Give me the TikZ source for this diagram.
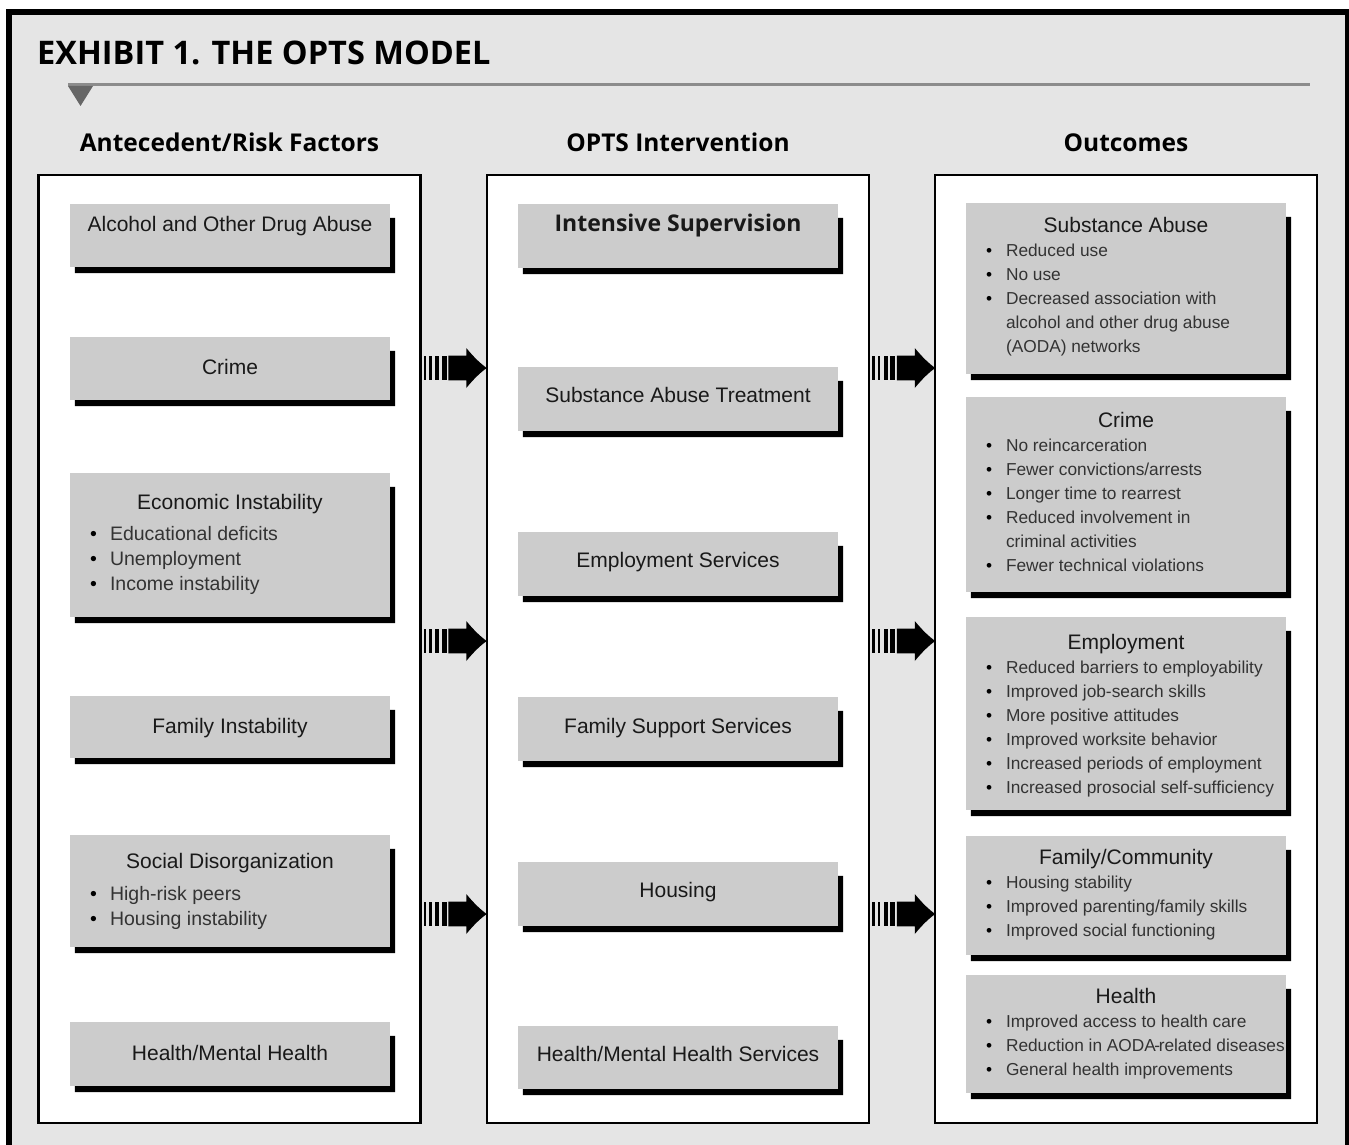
\documentclass[tikz,border=0pt]{standalone}
\usepackage{fontspec}
\setmainfont{Liberation Sans}
\newfontfamily\headfont{Open Sans}
\usetikzlibrary{calc}
\definecolor{panelgray}{HTML}{E5E5E5}
\definecolor{boxgray}{HTML}{CCCCCC}
\definecolor{rulegray}{HTML}{8C8C8C}
\definecolor{bodytext}{HTML}{333333}
\newcommand{\bul}{\makebox[20pt][l]{\textcolor{black}{\textbullet}}}
\newcommand{\cont}{\hspace*{20pt}}
\tikzset{
  column/.style={draw=black, line width=2.5pt, fill=white, minimum width=382pt, minimum height=948pt, inner sep=0pt},
  factor/.style={fill=boxgray, minimum width=320pt, inner sep=0pt},
  heading/.style={font=\headfont\bfseries\fontsize{24.5}{28}\selectfont, anchor=base, inner sep=0pt},
  boxtitle/.style={font=\fontsize{21}{25}\selectfont, text=black!90, anchor=base, inner sep=0pt},
  strongtitle/.style={font=\headfont\bfseries\fontsize{23}{27}\selectfont, text=black!90, anchor=base, inner sep=0pt},
  bullets/.style={font=\fontsize{17.3}{24}\selectfont, text=bodytext, anchor=base west, inner sep=0pt},
  widebullets/.style={bullets, font=\fontsize{19.5}{25}\selectfont},
  pics/stripearrow/.style={code={
    \fill (0,-12.3) rectangle (2.4,12.3);
    \fill (5.3,-12.3) rectangle (8.2,12.3);
    \fill (11.5,-12.3) rectangle (15.5,12.3);
    \fill (18,-12.3) rectangle (23,12.3);
    \fill (24.5,-12.3) -- (42.5,-12.3) -- (42.5,-20) .. controls (50,-11) and (56,-5) .. (63,0)
      .. controls (56,5) and (50,11) .. (42.5,20) -- (42.5,12.3) -- (24.5,12.3) -- cycle;
  }}
}
\begin{document}
\begin{tikzpicture}[x=1pt,y=-1pt]
\useasboundingbox (0,0) rectangle (1349,1145);
\clip (0,0) rectangle (1349,1145);
\draw[line width=6pt, fill=panelgray] (9,12) rectangle (1348,1180);

\node[font=\headfont\bfseries\fontsize{32.5}{38}\selectfont, anchor=base west, inner sep=0pt] (title) at (37,65) {EXHIBIT 1. THE OPTS MODEL};
\draw[rulegray, line width=3pt] (68,85) -- (1310,85);
\fill[black!60] (68,86) -- (93,86) -- (80.5,106) -- cycle;

\node[column] (risk) at (229.5,649) {};
\node[column] (opts) at (678,649) {};
\node[column] (outc) at (1126,649) {};
\node[heading] (riskhead) at (229.5,151) {Antecedent/Risk Factors};
\node[heading] (optshead) at (678,151) {OPTS Intervention};
\node[heading] (outchead) at (1126,151) {Outcomes};

% antecedent / risk factors
\node[factor, minimum height=63pt] (aoda) at (230,235.5) {};
\node[boxtitle] (aodatxt) at ($(aoda.north)+(0,28)$) {Alcohol and Other Drug Abuse};
\node[factor, minimum height=63pt] (crime) at (230,368.5) {};
\node[boxtitle] (crimetxt) at ($(crime.north)+(0,38)$) {Crime};
\node[factor, minimum height=144pt] (econ) at (230,545) {};
\node[boxtitle] (econtxt) at ($(econ.north)+(0,37)$) {Economic Instability};
\node[widebullets] (econlist) at ($(econ.north west)+(20,68)$) {\parbox[t]{300pt}{\raggedright
  \bul Educational deficits\\\bul Unemployment\\\bul Income instability}};
\node[factor, minimum height=62pt] (family) at (230,727) {};
\node[boxtitle] (familytxt) at ($(family.north)+(0,38)$) {Family Instability};
\node[factor, minimum height=112pt] (social) at (230,891) {};
\node[boxtitle] (socialtxt) at ($(social.north)+(0,34)$) {Social Disorganization};
\node[widebullets] (sociallist) at ($(social.north west)+(20,66)$) {\parbox[t]{300pt}{\raggedright
  \bul High-risk peers\\\bul Housing instability}};
\node[factor, minimum height=64pt] (mental) at (230,1054) {};
\node[boxtitle] (mentaltxt) at ($(mental.north)+(0,39)$) {Health/Mental Health};

% intervention
\node[factor, minimum height=64pt] (superv) at (678,236) {};
\node[strongtitle] (supervtxt) at ($(superv.north)+(0,28)$) {Intensive Supervision};
\node[factor, minimum height=64pt] (treat) at (678,399) {};
\node[boxtitle] (treattxt) at ($(treat.north)+(0,36)$) {Substance Abuse Treatment};
\node[factor, minimum height=64pt] (jobs) at (678,564) {};
\node[boxtitle] (jobstxt) at ($(jobs.north)+(0,36)$) {Employment Services};
\node[factor, minimum height=64pt] (famsup) at (678,729) {};
\node[boxtitle] (famsuptxt) at ($(famsup.north)+(0,37)$) {Family Support Services};
\node[factor, minimum height=64pt] (housing) at (678,894) {};
\node[boxtitle] (housingtxt) at ($(housing.north)+(0,36)$) {Housing};
\node[factor, minimum height=63pt] (hmhs) at (678,1057.5) {};
\node[boxtitle] (hmhstxt) at ($(hmhs.north)+(0,36)$) {Health/Mental Health Services};

% outcomes
\node[factor, minimum height=171pt] (subst) at (1126,288.5) {};
\node[boxtitle] (substtxt) at ($(subst.north)+(0,30)$) {Substance Abuse};
\node[bullets] (substlist) at ($(subst.north west)+(20,54)$) {\parbox[t]{340pt}{\raggedright
  \bul Reduced use\\\bul No use\\\bul Decreased association with\\\cont alcohol and other drug abuse\\\cont (AODA) networks}};
\node[factor, minimum height=195pt] (recid) at (1126,494.5) {};
\node[boxtitle] (recidtxt) at ($(recid.north)+(0,31)$) {Crime};
\node[bullets] (recidlist) at ($(recid.north west)+(20,55)$) {\parbox[t]{340pt}{\raggedright
  \bul No reincarceration\\\bul Fewer convictions/arrests\\\bul Longer time to rearrest\\\bul Reduced involvement in\\\cont criminal activities\\\bul Fewer technical violations}};
\node[factor, minimum height=193pt] (work) at (1126,713.5) {};
\node[boxtitle] (worktxt) at ($(work.north)+(0,33)$) {Employment};
\node[bullets] (worklist) at ($(work.north west)+(20,57)$) {\parbox[t]{340pt}{\raggedright
  \bul Reduced barriers to employability\\\bul Improved job-search skills\\\bul More positive attitudes\\\bul Improved worksite behavior\\\bul Increased periods of employment\\\bul Increased prosocial self-sufficiency}};
\node[factor, minimum height=119pt] (commun) at (1126,895.5) {};
\node[boxtitle] (communtxt) at ($(commun.north)+(0,29)$) {Family/Community};
\node[bullets] (communlist) at ($(commun.north west)+(20,53)$) {\parbox[t]{340pt}{\raggedright
  \bul Housing stability\\\bul Improved parenting/family skills\\\bul Improved social functioning}};
\node[factor, minimum height=118pt] (wellb) at (1126,1034) {};
\node[boxtitle] (wellbtxt) at ($(wellb.north)+(0,29)$) {Health};
\node[bullets] (wellblist) at ($(wellb.north west)+(20,53)$) {\parbox[t]{340pt}{\raggedright
  \bul Improved access to health care\\\bul Reduction in AODA\kern-1.5pt-\kern-1.5pt related diseases\\\bul General health improvements}};

\foreach \n in {aoda,crime,econ,family,social,mental,superv,treat,jobs,famsup,housing,hmhs,subst,recid,work,commun,wellb}
  \fill ($(\n.north east)+(0,14)$) -- ++(5,0) |- ($(\n.south west)+(5,6)$) |- (\n.south east) -- cycle;

\foreach \ay [count=\i] in {368,641,914} {
  \coordinate (lvl\i) at (0,\ay);
  \pic at ([xshift=2pt]risk.east |- lvl\i) {stripearrow};
  \pic at ([xshift=2pt]opts.east |- lvl\i) {stripearrow};
}
\end{tikzpicture}
\end{document}
